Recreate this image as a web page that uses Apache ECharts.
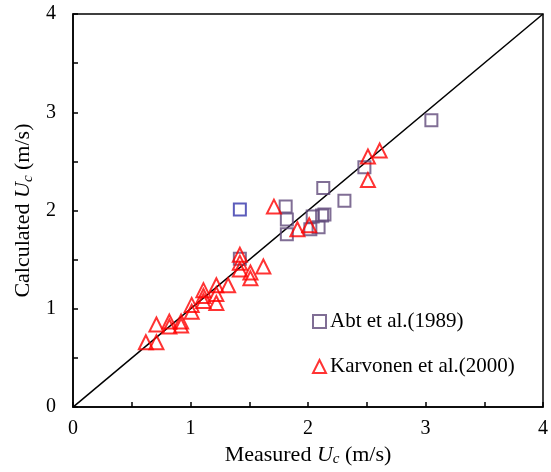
<!DOCTYPE html>
<html><head><meta charset="utf-8">
<script src="https://cdn.jsdelivr.net/npm/echarts@6/dist/echarts.min.js"></script>
<style>html,body{margin:0;padding:0;background:#fff}#c{width:551px;height:472px}</style>
</head><body><div id="c"></div>
<script>
const abtMeasured   = [3.05, 2.48, 2.13, 2.31, 1.81, 1.82, 2.04, 2.14, 2.12, 2.09, 2.02, 1.82, 1.42];
const abtCalculated = [2.92, 2.44, 2.23, 2.10, 2.04, 1.91, 1.94, 1.96, 1.95, 1.83, 1.81, 1.76, 1.51];
const abtExtraMeasured = [1.42];
const abtExtraCalculated = [2.01];
const karMeasured   = [2.61, 2.51, 2.51, 1.91, 2.01, 1.71, 1.42, 1.42, 1.42, 1.51, 1.51, 1.62, 1.32, 1.22, 1.22, 1.22, 1.11, 1.11, 1.11, 1.01, 1.01, 0.92, 0.92, 0.82, 0.82, 0.71, 0.71, 0.62];
const karCalculated = [2.61, 2.55, 2.31, 1.81, 1.85, 2.04, 1.55, 1.47, 1.40, 1.37, 1.31, 1.43, 1.24, 1.24, 1.15, 1.06, 1.19, 1.13, 1.08, 1.04, 0.97, 0.87, 0.83, 0.87, 0.82, 0.84, 0.66, 0.66];
const lineX = [0, 4];
const lineY = [0, 4];
const axisTicks = [0, 1, 2, 3, 4];
const seriesNames = ['Abt et al.(1989)', 'Karvonen et al.(2000)'];

const zip = (a, b) => a.map((v, i) => [v, b[i]]);
const font = '"Liberation Serif", "Times New Roman", serif';
const chart = echarts.init(document.getElementById('c'));
const nameStyle = {color: '#000', fontFamily: font, fontSize: 22,
  rich: {i: {fontStyle: 'italic', fontFamily: font, fontSize: 22, color: '#000'},
         s: {fontStyle: 'italic', fontFamily: font, fontSize: 15, color: '#000', verticalAlign: 'bottom', padding: [9, 0, 0, 0]}}};
const axisCommon = {
  min: axisTicks[0], max: axisTicks[axisTicks.length - 1], interval: 1,
  axisLine: {show: true, onZero: false, lineStyle: {color: '#000', width: 1.5}},
  axisTick: {show: true, inside: true, length: 5, lineStyle: {color: '#000', width: 1.5}},
  minorTick: {show: true, splitNumber: 2, length: 5, lineStyle: {color: '#000', width: 1.5}},
  splitLine: {show: false},
  nameTextStyle: nameStyle
};
chart.setOption({
  animation: false,
  backgroundColor: '#fff',
  grid: {left: 73, right: 6, top: 14, bottom: 64, show: true, borderColor: '#000', borderWidth: 1.5},
  xAxis: Object.assign({}, axisCommon, {
    type: 'value', name: 'Measured {i|U}{s|c} (m/s)', nameLocation: 'middle', nameGap: 34,
    axisLabel: {color: '#000', fontFamily: font, fontSize: 20, margin: 12}
  }),
  yAxis: Object.assign({}, axisCommon, {
    type: 'value', name: 'Calculated {i|U}{s|c} (m/s)', nameLocation: 'middle', nameGap: 36,
    axisLabel: {color: '#000', fontFamily: font, fontSize: 20, margin: 17}
  }),
  legend: {
    orient: 'vertical', left: 307, top: 306, itemGap: 24, itemWidth: 13, itemHeight: 13,
    textStyle: {color: '#000', fontFamily: font, fontSize: 21, padding: [0, 0, 0, -1]},
    data: seriesNames
  },
  series: [
    {type: 'line', data: zip(lineX, lineY), symbol: 'none', silent: true,
     lineStyle: {color: '#000', width: 1.5}, z: 1},
    {type: 'scatter', name: seriesNames[0], data: zip(abtMeasured, abtCalculated),
     symbol: 'rect', symbolSize: 12,
     itemStyle: {color: 'rgba(0,0,0,0)', borderColor: '#604a7b', borderWidth: 2}, z: 2},
    {type: 'scatter', name: 'extra', data: zip(abtExtraMeasured, abtExtraCalculated),
     symbol: 'rect', symbolSize: 12,
     itemStyle: {color: 'rgba(0,0,0,0)', borderColor: '#3333aa', borderWidth: 2}, z: 2},
    {type: 'scatter', name: seriesNames[1], data: zip(karMeasured, karCalculated),
     symbol: 'triangle', symbolSize: 14,
     itemStyle: {color: 'rgba(0,0,0,0)', borderColor: '#ff0000', borderWidth: 2}, z: 3}
  ]
});
</script></body></html>
